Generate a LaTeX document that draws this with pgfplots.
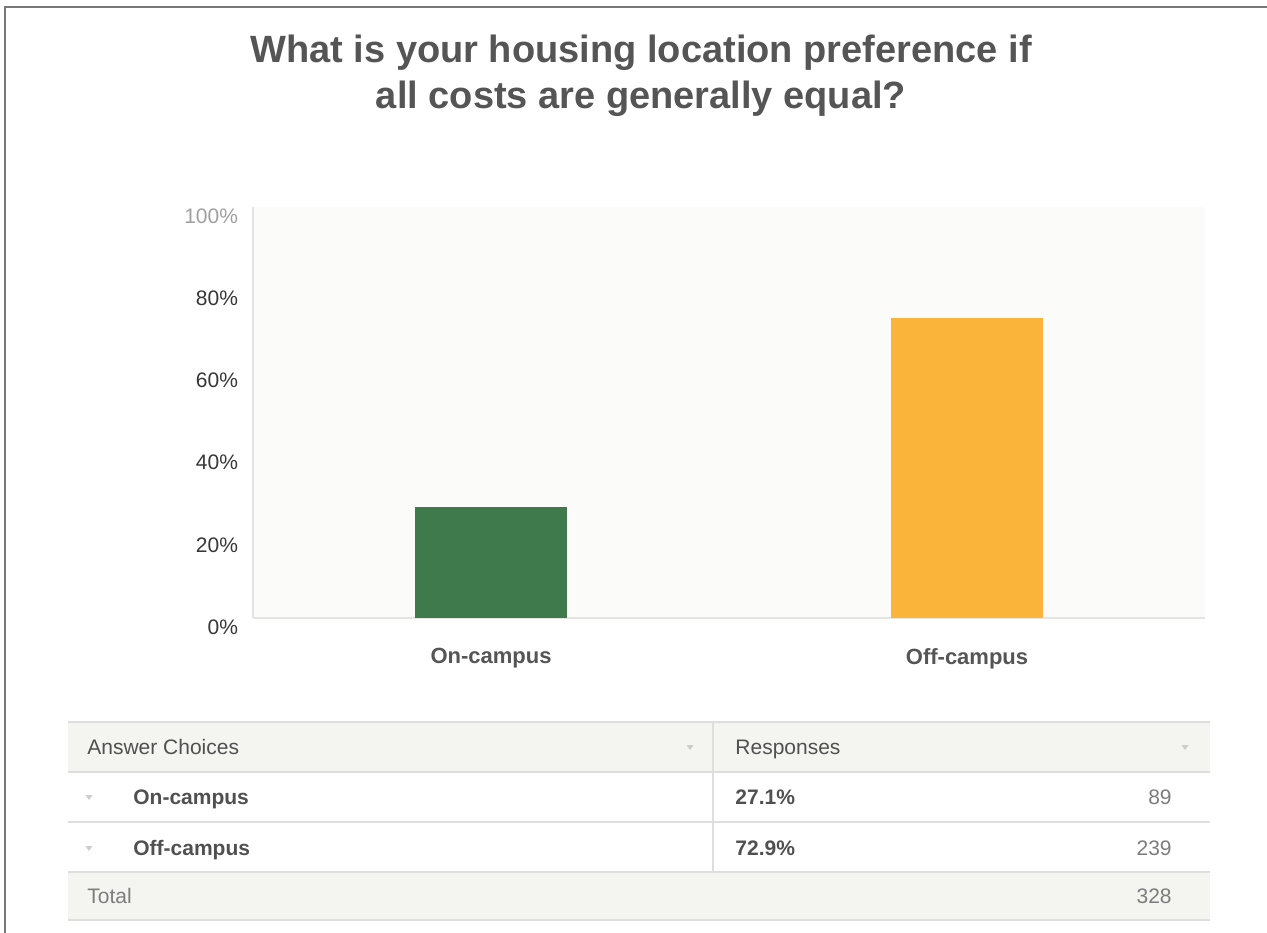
\documentclass[border=0pt]{standalone}
\usepackage{pgfplots}
\pgfplotsset{compat=1.18}
\usepackage{fontspec}
\setmainfont{Liberation Sans}

\definecolor{oncampus}{RGB}{62,122,75}
\definecolor{offcampus}{RGB}{250,180,58}
\definecolor{titlegray}{RGB}{85,85,85}
\definecolor{labelgray}{RGB}{55,55,55}
\definecolor{catgray}{RGB}{85,85,85}
\definecolor{plotbg}{RGB}{251,251,249}
\definecolor{axisgray}{RGB}{228,228,226}
\definecolor{framegray}{RGB}{120,120,120}
\definecolor{rowfill}{RGB}{244,244,241}
\definecolor{rulegray}{RGB}{222,222,220}
\definecolor{textgray}{RGB}{80,80,80}
\definecolor{numgray}{RGB}{125,125,125}
\definecolor{arrowgray}{RGB}{205,205,205}

\begin{document}
\begin{tikzpicture}
% page layout in pixel units (y downwards)
\begin{scope}[x=0.5bp,y=-0.5bp]
  \useasboundingbox (0,0) rectangle (1267,932);
  \draw[framegray, line width=1.2bp] (5,940) -- (5,7) -- (1275,7);

  % title
  \node[anchor=base, text=titlegray, font=\bfseries\fontsize{19bp}{23bp}\selectfont]
    at (641,62) {What is your housing location preference if};
  \node[anchor=base, text=titlegray, font=\bfseries\fontsize{19bp}{23bp}\selectfont]
    at (641,108) {all costs are generally equal?};

  % summary table
  \fill[rowfill] (68,722) rectangle (1210,772);
  \fill[rowfill] (68,872) rectangle (1210,920);
  \foreach \yy in {722,772,822,872,920}
    \draw[rulegray, line width=0.8bp] (68,\yy) -- (1210,\yy);
  \draw[rulegray, line width=0.8bp] (713,722) -- (713,872);

  \foreach \xx/\yy in {89/797, 89/848, 690/747, 1185/747}
    \fill[arrowgray] (\xx-3.5,\yy-2) -- (\xx+3.5,\yy-2) -- (\xx,\yy+3) -- cycle;

  \begin{scope}[every node/.style={inner sep=0pt, font=\fontsize{10.5bp}{12bp}\selectfont}]
    \node[anchor=base west, text=textgray] at (87,754) {Answer Choices};
    \node[anchor=base west, text=textgray] at (735,754) {Responses};
    \node[anchor=base west, text=textgray, font=\bfseries\fontsize{10.5bp}{12bp}\selectfont] at (133,804) {On-campus};
    \node[anchor=base west, text=textgray, font=\bfseries\fontsize{10.5bp}{12bp}\selectfont] at (133,855) {Off-campus};
    \node[anchor=base west, text=textgray, font=\bfseries\fontsize{10.5bp}{12bp}\selectfont] at (735,804) {27.1\%};
    \node[anchor=base west, text=textgray, font=\bfseries\fontsize{10.5bp}{12bp}\selectfont] at (735,855) {72.9\%};
    \node[anchor=base east, text=numgray] at (1172,804) {89};
    \node[anchor=base east, text=numgray] at (1172,855) {239};
    \node[anchor=base west, text=numgray] at (87,903) {Total};
    \node[anchor=base east, text=numgray] at (1172,903) {328};
  \end{scope}
\end{scope}

\begin{axis}[
  at={(126.5bp,-309bp)}, anchor=south west,
  width=476bp, height=205.5bp, scale only axis,
  xmin=-0.5, xmax=1.5, ymin=0, ymax=100,
  axis background/.style={fill=plotbg},
  axis x line*=bottom, axis y line*=left,
  axis line style={draw=axisgray, line width=0.8bp, -},
  major tick length=0pt,
  xtick={0,1}, xticklabels={On-campus, Off-campus},
  xticklabel style={text=catgray, font=\bfseries\fontsize{11bp}{13bp}\selectfont, yshift=-11.5bp},
  ytick={0,20,40,60,80},
  extra y ticks={100},
  extra y tick style={yticklabel style={text=gray!75}},
  yticklabel={\pgfmathprintnumber{\tick}\%},
  yticklabel style={text=labelgray, font=\fontsize{10.5bp}{12bp}\selectfont, yshift=-4.5bp, xshift=-4bp},
  /pgf/number format/assume math mode=true,
  ybar, bar width=76bp,
  clip=false,
]
\addplot[fill=oncampus, draw=none, bar shift=0pt] coordinates {(0,27.1)};
\addplot[fill=offcampus, draw=none, bar shift=0pt] coordinates {(1,72.9)};
\end{axis}
\end{tikzpicture}
\end{document}
